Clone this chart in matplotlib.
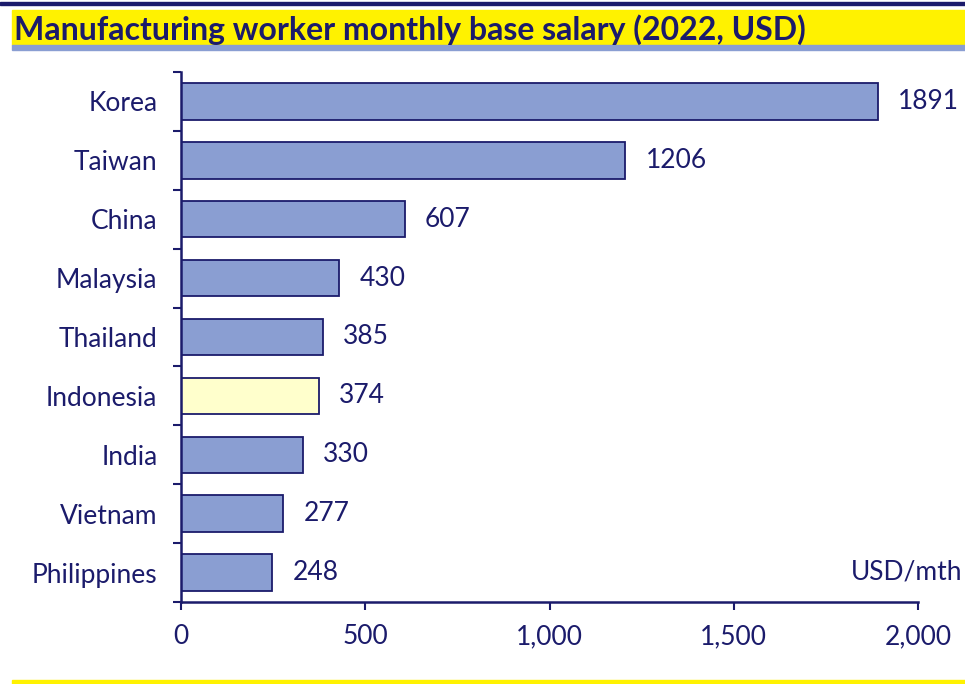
import matplotlib.pyplot as plt
from matplotlib.patches import Rectangle

countries = ["Korea", "Taiwan", "China", "Malaysia", "Thailand",
             "Indonesia", "India", "Vietnam", "Philippines"]
salary = [1891, 1206, 607, 430, 385, 374, 330, 277, 248]
x_ticks = [0, 500, 1000, 1500, 2000]
x_tick_labels = ["0", "500", "1,000", "1,500", "2,000"]

navy = "#1b1b6b"
bar_blue = "#8a9ed2"
highlight = "#ffffcc"

plt.rcParams['font.family'] = ['Lato', 'DejaVu Sans']

fig = plt.figure(figsize=(9.65, 6.84), dpi=100)

# header band
fig.patches.append(Rectangle((0, 1 - 5 / 684), 1, 3 / 684, transform=fig.transFigure,
                             color=navy, zorder=0))
fig.patches.append(Rectangle((0.012, 1 - 45 / 684), 0.988, 35 / 684, transform=fig.transFigure,
                             color="#fff200", zorder=0))
fig.patches.append(Rectangle((0.012, 1 - 50 / 684), 0.988, 5 / 684, transform=fig.transFigure,
                             color="#8a9ed2", zorder=0))
fig.text(0.015, 1 - 30 / 684, "Manufacturing worker monthly base salary (2022, USD)",
         fontsize=23, fontweight="bold", color=navy, va="center", ha="left")
# bottom line
fig.patches.append(Rectangle((0.012, 0), 0.988, 4 / 684, transform=fig.transFigure,
                             color="#fff200", zorder=0))

ax = fig.add_axes([181 / 965, 1 - 602 / 684, (918 - 181) / 965, (602 - 72) / 684])

ypos = list(range(len(countries)))
colors = [highlight if c == "Indonesia" else bar_blue for c in countries]
ax.barh(ypos, salary, height=0.62, color=colors, edgecolor=navy, linewidth=1.3, zorder=2)
for y, v in zip(ypos, salary):
    ax.text(v + 55, y, str(v), va="center", ha="left", fontsize=19, color=navy)

ax.set_ylim(len(countries) - 0.5, -0.5)
ax.set_xlim(0, 2000)
ax.set_yticks(ypos)
ax.set_yticklabels(countries, fontsize=19, color=navy)
ax.set_yticks([i - 0.5 for i in range(len(countries) + 1)], minor=True)
ax.tick_params(axis="y", which="major", length=0, pad=17)
ax.tick_params(axis="y", which="minor", length=6, width=1.5, color=navy, direction="out")
ax.set_xticks(x_ticks)
ax.set_xticklabels(x_tick_labels, fontsize=19, color=navy)
ax.tick_params(axis="x", length=6, width=1.5, color=navy, direction="out", pad=10)

for s in ["top", "right"]:
    ax.spines[s].set_visible(False)
for s in ["left", "bottom"]:
    ax.spines[s].set_color(navy)
    ax.spines[s].set_linewidth(1.8)

ax.text(0.985, 0.057, "USD/mth", transform=ax.transAxes, ha="center", va="center",
        fontsize=19, color=navy)

fig.savefig("out.png", dpi=100)
